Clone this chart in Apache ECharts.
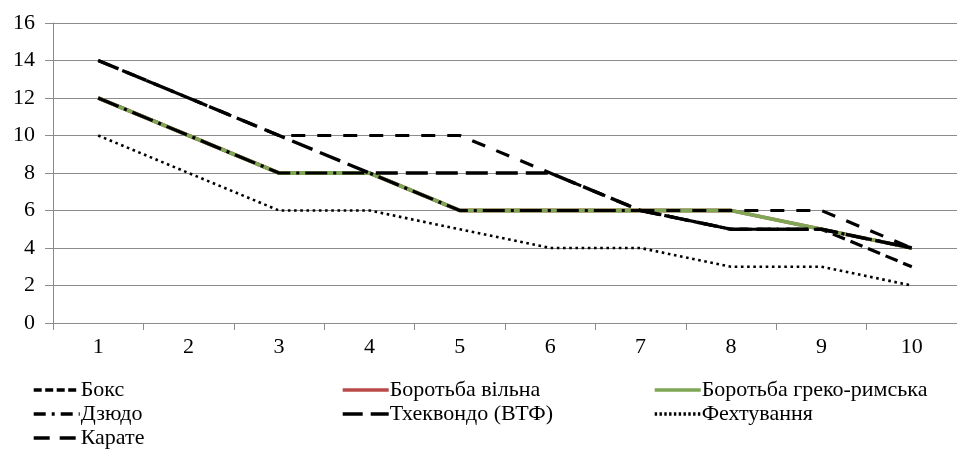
<!DOCTYPE html>
<html>
<head>
<meta charset="utf-8">
<script src="https://cdn.jsdelivr.net/npm/echarts@6/dist/echarts.min.js"></script>
<style>
html,body{margin:0;padding:0;background:#fff;}
#c{width:957px;height:473px;}
</style>
</head>
<body>
<div id="c"></div>
<script>
const categories = ['1','2','3','4','5','6','7','8','9','10'];
const yTicks = [0,2,4,6,8,10,12,14,16];
const boks = [12,10,8,8,6,6,6,5,5,3];
const borVilna = [12,10,8,8,6,6,6,6,5,4];
const borGreko = [12,10,8,8,6,6,6,6,5,4];
const dziudo = [12,10,8,8,6,6,6,5,5,4];
const tkd = [14,12,10,8,8,8,6,5,5,4];
const fekht = [10,8,6,6,5,4,4,3,3,2];
const karate = [14,12,10,10,10,8,6,6,6,4];

const names = ['Бокс','Боротьба вільна','Боротьба греко-римська','Дзюдо','Тхеквондо (ВТФ)','Фехтування','Карате'];
const FONT = '"Liberation Serif", "DejaVu Serif", serif';

function mk(name, data, color, width, type){
  return {
    name, type:'line', data, symbol:'none', showSymbol:false, silent:true, animation:false,
    lineStyle:{color, width, type},
    itemStyle:{color}
  };
}

const series = [
  mk(names[0], boks, '#000', 3.2, [13,6]),
  mk(names[1], borVilna, '#B94A48', 3.8, 'solid'),
  mk(names[2], borGreko, '#7FA655', 3.8, 'solid'),
  mk(names[3], dziudo, '#000', 3.2, [22,6,3,6]),
  mk(names[4], tkd, '#000', 3.4, [22,8]),
  mk(names[5], fekht, '#000', 2.6, [2.6,3.6]),
  mk(names[6], karate, '#000', 3.2, [14,12])
];

const legendDash = {
  [names[0]]: [8,3.5],
  [names[1]]: 'solid',
  [names[2]]: 'solid',
  [names[3]]: [12,6,3,6],
  [names[4]]: [20,8],
  [names[5]]: [2.4,2.4],
  [names[6]]: [16,10]
};

function legendCol(left, data){
  return {
    orient:'vertical', left, top:374, itemWidth:46, itemHeight:14, itemGap:2,
    selectedMode:false,
    data: data.map(n => ({name:n, lineStyle:{type:legendDash[n], width:3.4}})),
    itemStyle:{opacity:0},
    textStyle:{fontFamily:FONT, fontSize:22, color:'#000', lineHeight:22, padding:[0,0,0,-4]}
  };
}

const chart = echarts.init(document.getElementById('c'), null, {renderer:'canvas'});
chart.setOption({
  backgroundColor:'#fff',
  animation:false,
  textStyle:{fontFamily:FONT},
  grid:{left:53, right:-7, top:23, bottom:150, containLabel:false},
  legend:[
    legendCol(27, [names[0], names[3], names[6]]),
    legendCol(336, [names[1], names[4]]),
    legendCol(648, [names[2], names[5]])
  ],
  xAxis:{
    type:'category', data:categories, boundaryGap:true,
    axisLine:{lineStyle:{color:'#8c8c8c', width:1}},
    axisTick:{show:true, length:7, lineStyle:{color:'#8c8c8c'}},
    axisLabel:{fontFamily:FONT, fontSize:22, color:'#000', margin:13}
  },
  yAxis:{
    type:'value', min:yTicks[0], max:yTicks[yTicks.length-1], interval:2,
    axisLine:{show:true, lineStyle:{color:'#8c8c8c', width:1}},
    axisTick:{show:true, length:8, lineStyle:{color:'#8c8c8c'}},
    splitLine:{lineStyle:{color:'#8c8c8c', width:1}},
    axisLabel:{fontFamily:FONT, fontSize:22, color:'#000', margin:18}
  },
  series
});
</script>
</body>
</html>
